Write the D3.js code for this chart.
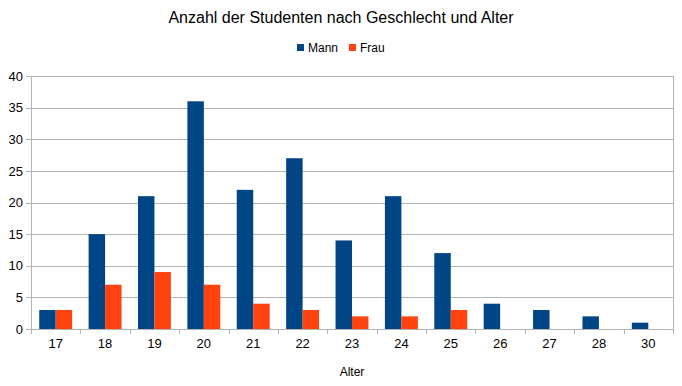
<!DOCTYPE html>
<html>
<head>
<meta charset="utf-8">
<script src="https://cdn.jsdelivr.net/npm/d3@7"></script>
<style>
  body { margin: 0; background: #fff; }
  text { font-family: "Liberation Sans", Arial, sans-serif; fill: #000; }
</style>
</head>
<body>
<div id="chart"></div>
<script>
// data
const ages = ["17", "18", "19", "20", "21", "22", "23", "24", "25", "26", "27", "28", "30"];
const mann = [3, 15, 21, 36, 22, 27, 14, 21, 12, 4, 3, 2, 1];
const frau = [3, 7, 9, 7, 4, 3, 2, 2, 3, 0, 0, 0, 0];
const seriesNames = ["Mann", "Frau"];
const yTicks = [0, 5, 10, 15, 20, 25, 30, 35, 40];

const SVG_WIDTH = 682, SVG_HEIGHT = 386;
const MARGIN = {top: 76, right: 9, bottom: 57, left: 31};
const WIDTH = SVG_WIDTH - MARGIN.left - MARGIN.right;
const HEIGHT = SVG_HEIGHT - MARGIN.top - MARGIN.bottom;
const COLORS = ["#004586", "#ff420e"];

const svg = d3.select("#chart").append("svg")
  .attr("width", SVG_WIDTH).attr("height", SVG_HEIGHT);

svg.append("text")
  .attr("x", SVG_WIDTH / 2).attr("y", 23)
  .attr("text-anchor", "middle")
  .style("font-size", "16px")
  .text("Anzahl der Studenten nach Geschlecht und Alter");

const g = svg.append("g").attr("transform", `translate(${MARGIN.left}, ${MARGIN.top})`);

const x = d3.scaleBand().domain(ages).range([0, WIDTH]).paddingInner(0).paddingOuter(0);
const x1 = d3.scaleBand().domain(seriesNames).range([x.bandwidth() / 6, x.bandwidth() * 5 / 6]);
const y = d3.scaleLinear().domain([0, 40]).range([HEIGHT, 0]);

// grid
g.selectAll(".grid").data(yTicks).enter().append("line")
  .attr("x1", -5).attr("x2", WIDTH)
  .attr("y1", d => Math.round(y(d)) + 0.5).attr("y2", d => Math.round(y(d)) + 0.5)
  .attr("stroke", "#b3b3b3");

g.append("line").attr("x1", WIDTH + 0.5).attr("x2", WIDTH + 0.5)
  .attr("y1", 0).attr("y2", HEIGHT).attr("stroke", "#b3b3b3");

// bars
const rows = ages.map((a, i) => ({age: a, vals: [mann[i], frau[i]]}));
const grp = g.selectAll(".cat").data(rows).enter().append("g")
  .attr("transform", d => `translate(${x(d.age)},0)`);
grp.selectAll("rect").data(d => d.vals.map((v, j) => ({name: seriesNames[j], v: v, j: j})))
  .enter().append("rect")
  .attr("x", d => x1(d.name))
  .attr("width", x1.bandwidth())
  .attr("y", d => y(d.v))
  .attr("height", d => HEIGHT - y(d.v))
  .attr("fill", d => COLORS[d.j]);

// y axis
const yAxis = g.append("g").call(d3.axisLeft(y).tickValues(yTicks).tickSize(0).tickPadding(8));
yAxis.select(".domain").remove();
yAxis.selectAll("text").style("font-size", "13px").style("font-family", "Liberation Sans, Arial, sans-serif");
g.append("line").attr("x1", 0.5).attr("x2", 0.5).attr("y1", 0).attr("y2", HEIGHT + 5).attr("stroke", "#b3b3b3");

// x axis
const xAxis = g.append("g").attr("transform", `translate(0, ${HEIGHT})`)
  .call(d3.axisBottom(x).tickSize(0).tickPadding(10));
xAxis.select(".domain").remove();
xAxis.selectAll("text").style("font-size", "13px").style("font-family", "Liberation Sans, Arial, sans-serif");
g.append("line").attr("x1", 0).attr("x2", WIDTH).attr("y1", HEIGHT + 0.5).attr("y2", HEIGHT + 0.5).attr("stroke", "#b3b3b3");
g.selectAll(".xt").data(ages.concat(["end"])).enter().append("line")
  .attr("x1", (d, i) => Math.round(i * x.step()) + 0.5)
  .attr("x2", (d, i) => Math.round(i * x.step()) + 0.5)
  .attr("y1", HEIGHT).attr("y2", HEIGHT + 5).attr("stroke", "#b3b3b3");

svg.append("text")
  .attr("x", MARGIN.left + WIDTH / 2).attr("y", 376)
  .attr("text-anchor", "middle").style("font-size", "12px")
  .text("Alter");

// legend
const legend = svg.append("g").attr("transform", "translate(297, 49)");
const legX = [0, 52];
seriesNames.forEach((n, i) => {
  legend.append("rect").attr("x", legX[i]).attr("y", -5).attr("width", 7).attr("height", 7).attr("fill", COLORS[i]);
  legend.append("text").attr("x", legX[i] + 11).attr("y", 3).style("font-size", "12px").text(n);
});
</script>
</body>
</html>
